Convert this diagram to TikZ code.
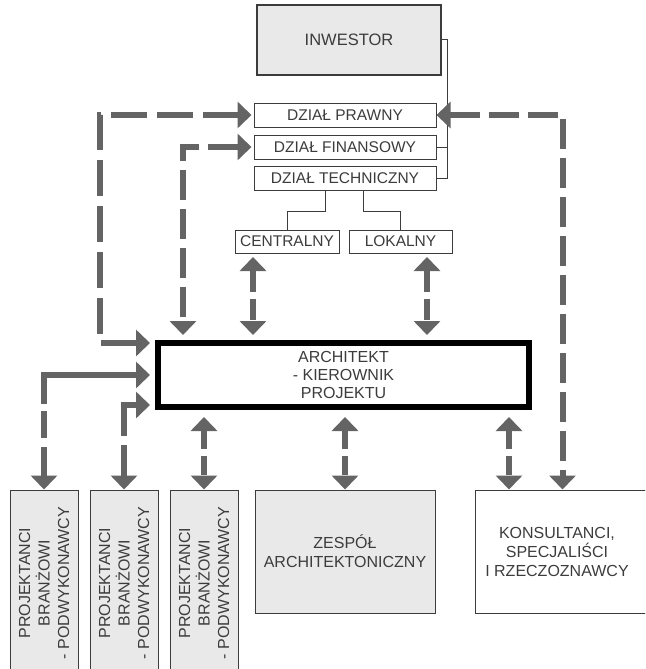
\documentclass[tikz,border=0pt]{standalone}
\usepackage{fontspec}
\setmainfont{Liberation Sans}
\usetikzlibrary{arrows.meta}
\definecolor{arrgray}{RGB}{100,100,100}
\definecolor{boxfill}{RGB}{232,233,232}
\definecolor{ink}{RGB}{60,60,60}

\begin{document}
\begin{tikzpicture}[x=1pt,y=-1pt,
  every node/.style={inner sep=0pt, text=ink, align=center},
  box/.style={draw=ink, line width=1pt, font=\fontsize{15.5}{18}\selectfont},
  shaded/.style={fill=boxfill},
  dzial/.style={box, minimum width=182pt, minimum height=24pt},
  branza/.style={box, shaded, rotate=90, minimum width=186pt, minimum height=68pt, font=\fontsize{16}{19.5}\selectfont},
  link/.style={draw=ink, line width=1pt},
  flow/.style={draw=arrgray, line width=6pt, {Triangle[width=26pt,length=14pt]}-{Triangle[width=26pt,length=14pt]}},
  longdash/.style={dash pattern=on 30pt off 9pt},
  midgap/.style={dash pattern=on #1 off 7pt}]
\useasboundingbox (0,0) rectangle (645,669);
\clip (0,0) rectangle (645,669);

\node[box, shaded, line width=1.5pt, minimum width=184pt, minimum height=70pt, font=\fontsize{16.5}{20}\selectfont] (inw) at (349,40) {INWESTOR};
\node[dzial] (prawny) at (345,115) {DZIAŁ PRAWNY};
\node[dzial] (finans) at (345,147) {DZIAŁ FINANSOWY};
\node[dzial] (tech) at (345,178.5) {DZIAŁ TECHNICZNY};
\node[box, minimum width=104pt, minimum height=23pt] (central) at (287,241.5) {CENTRALNY};
\node[box, minimum width=103pt, minimum height=23pt] (lokal) at (400.5,241.5) {LOKALNY};
\node[draw=black, line width=6pt, minimum width=371pt, minimum height=64pt, font=\fontsize{16}{18}\selectfont] (arch) at (343.5,375) {ARCHITEKT\\- KIEROWNIK\\PROJEKTU};

% rotated boxes: their east anchor is the top edge
\node[branza] (bran1) at (44,583) {PROJEKTANCI\\BRANŻOWI\\- PODWYKONAWCY};
\node[branza] (bran2) at (124,583) {PROJEKTANCI\\BRANŻOWI\\- PODWYKONAWCY};
\node[branza] (bran3) at (204,583) {PROJEKTANCI\\BRANŻOWI\\- PODWYKONAWCY};
\node[box, shaded, minimum width=180pt, minimum height=123pt, font=\fontsize{16}{19}\selectfont] (zespol) at (345,551.5) {ZESPÓŁ\\ARCHITEKTONICZNY};
\node[box, minimum width=190pt, minimum height=123pt,
  label={[font=\fontsize{16}{19}\selectfont, xshift=-13pt]center:{KONSULTANCI,\\SPECJALIŚCI\\I RZECZOZNAWCY}}] (kons) at (570,551.5) {};

% investor structure
\draw[link] (inw.east) -- ++(6,0) |- (tech.east);
\draw[link] (prawny.east) -- ++(11,0);
\draw[link] (finans.east) -- ++(11,0);
\draw[link] ([xshift=-20pt]tech.south) -- ++(0,20) -| (central.north);
\draw[link] ([xshift=18pt]tech.south) -- ++(0,20) -| (lokal.north);

% arrows to the architect
\draw[flow, midgap=21.5pt, shorten <=3.5pt, shorten >=5pt] ([xshift=-34pt]central.south) -- ([xshift=-34pt]central.south |- arch.north);
\draw[flow, midgap=21.5pt, shorten <=3.5pt, shorten >=5pt] ([xshift=26.5pt]lokal.south) -- ([xshift=26.5pt]lokal.south |- arch.north);
\draw[flow, dash pattern=on 36pt off 10pt, shorten <=5pt, shorten >=2pt] ([yshift=32pt]arch.west) -- ++(-55,0) |- (prawny.west);
\draw[flow, longdash, shorten <=2pt, shorten >=5pt] (finans.west) -| ([xshift=-160.5pt]arch.north);
\draw[flow, longdash] (prawny.east) -| ([xshift=-7.5pt]kons.north);

% arrows to the teams
\draw[flow, dash pattern=on 122pt off 7pt on 27pt off 9pt, shorten <=5pt] (arch.west) -| (bran1.east);
\draw[flow, dash pattern=on 44pt off 9pt, shorten <=5pt] ([yshift=-30pt]arch.west) -| (bran2.east);
\draw[flow, midgap=19pt, shorten <=7pt] (arch.south -| bran3.east) -- (bran3.east);
\draw[flow, midgap=19pt, shorten <=7pt] (arch.south -| zespol.north) -- (zespol.north);
\draw[flow, midgap=19pt, shorten <=7pt] ([xshift=-61pt]arch.south -| kons.north) -- ([xshift=-61pt]kons.north);
\end{tikzpicture}
\end{document}
